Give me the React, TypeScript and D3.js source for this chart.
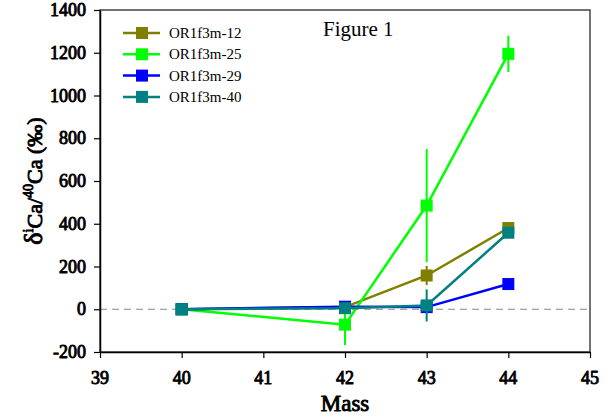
import React, { useRef, useEffect } from 'react';
import * as d3 from 'd3';

const masses = [40, 42, 43, 44];
const seriesNames = ['OR1f3m-12', 'OR1f3m-25', 'OR1f3m-29', 'OR1f3m-40'];
const seriesColors = ['#808000', '#00ff00', '#0000ff', '#008080'];
const values12 = [0, 10, 158, 380];
const values25 = [0, -72, 485, 1195];
const values29 = [0, 12, 10, 118];
const values40 = [0, 5, 18, 358];
const errors12 = [0, 0, 45, 0];
const errors25 = [0, 95, 265, 85];
const errors29 = [0, 0, 0, 0];
const errors40 = [0, 0, 75, 0];
const xTicks = [39, 40, 41, 42, 43, 44, 45];
const yTicks = [-200, 0, 200, 400, 600, 800, 1000, 1200, 1400];

const App = () => {
  const svgRef = useRef(null);

  useEffect(() => {
    const width = 610;
    const height = 417;
    const margin = { top: 10, right: 20, bottom: 65, left: 100 };
    const font = '"Liberation Serif", "Times New Roman", serif';

    const svg = d3.select(svgRef.current)
      .attr('width', width)
      .attr('height', height)
      .style('position', 'absolute')
      .style('left', 0)
      .style('top', 0);
    svg.selectAll('*').remove();

    // fake bold: regular serif with a thin stroke of the same colour
    const bold = sel => sel
      .attr('font-family', font)
      .attr('font-weight', 'normal')
      .attr('fill', '#000')
      .attr('stroke', '#000')
      .attr('stroke-width', 0.9)
      .attr('stroke-linejoin', 'round');

    const x = d3.scaleLinear().domain([39, 45]).range([margin.left, width - margin.right]);
    const y = d3.scaleLinear().domain([-200, 1400]).range([height - margin.bottom, margin.top]);

    // frame
    svg.append('rect')
      .attr('x', x(39)).attr('y', y(1400))
      .attr('width', x(45) - x(39)).attr('height', y(-200) - y(1400))
      .attr('fill', 'white').attr('stroke', '#444').attr('stroke-width', 1.5);

    // zero line
    svg.append('line')
      .attr('x1', x(39)).attr('x2', x(45))
      .attr('y1', y(0)).attr('y2', y(0))
      .attr('stroke', '#888').attr('stroke-width', 1.2)
      .attr('stroke-dasharray', '7,5');

    // axes (lines only, labels drawn below)
    const xAxis = svg.append('g')
      .attr('transform', `translate(0,${y(-200)})`)
      .call(d3.axisBottom(x).tickValues(xTicks).tickSize(6).tickSizeOuter(0).tickFormat(() => ''));
    const yAxis = svg.append('g')
      .attr('transform', `translate(${x(39)},0)`)
      .call(d3.axisLeft(y).tickValues(yTicks).tickSize(6).tickSizeOuter(0).tickFormat(() => ''));

    [xAxis, yAxis].forEach(a => {
      a.select('.domain').attr('stroke', '#000').attr('stroke-width', 1.5);
      a.selectAll('.tick line').attr('stroke', '#000').attr('stroke-width', 1.2);
    });

    svg.append('g')
      .selectAll('text')
      .data(xTicks)
      .enter()
      .append('text')
      .attr('x', d => x(d))
      .attr('y', y(-200) + 32)
      .attr('text-anchor', 'middle')
      .attr('font-size', 18)
      .call(bold)
      .text(d => d);

    svg.append('g')
      .selectAll('text')
      .data(yTicks)
      .enter()
      .append('text')
      .attr('x', x(39) - 14)
      .attr('y', d => y(d) + 6)
      .attr('text-anchor', 'end')
      .attr('font-size', 18)
      .call(bold)
      .text(d => d);

    const allValues = [values12, values25, values29, values40];
    const allErrors = [errors12, errors25, errors29, errors40];

    const line = d3.line<number>()
      .x((d, i) => x(masses[i]))
      .y(d => y(d));

    allValues.forEach((vals, s) => {
      const g = svg.append('g');
      // error bars
      vals.forEach((v, i) => {
        const e = allErrors[s][i];
        if (e > 0) {
          g.append('line')
            .attr('x1', x(masses[i])).attr('x2', x(masses[i]))
            .attr('y1', y(v - e)).attr('y2', y(v + e))
            .attr('stroke', seriesColors[s]).attr('stroke-width', 2);
        }
      });
      g.append('path')
        .datum(vals)
        .attr('d', line)
        .attr('fill', 'none')
        .attr('stroke', seriesColors[s])
        .attr('stroke-width', 2.5);
      g.selectAll('rect')
        .data(vals)
        .enter()
        .append('rect')
        .attr('x', (d, i) => x(masses[i]) - 6)
        .attr('y', d => y(d) - 6)
        .attr('width', 12).attr('height', 12)
        .attr('fill', seriesColors[s]);
    });

    // legend
    const legend = svg.append('g');
    seriesNames.forEach((name, i) => {
      const ly = 33 + i * 21.3;
      legend.append('line')
        .attr('x1', 123).attr('x2', 160)
        .attr('y1', ly).attr('y2', ly)
        .attr('stroke', seriesColors[i]).attr('stroke-width', 2.5);
      legend.append('rect')
        .attr('x', 136).attr('y', ly - 6)
        .attr('width', 12).attr('height', 12)
        .attr('fill', seriesColors[i]);
      legend.append('text')
        .attr('x', 169).attr('y', ly + 5)
        .attr('font-family', font)
        .attr('font-size', 15)
        .text(name);
    });

    svg.append('text')
      .attr('x', 323).attr('y', 36)
      .attr('font-family', font)
      .attr('font-size', 21)
      .text('Figure 1');

    svg.append('text')
      .attr('x', (x(39) + x(45)) / 2).attr('y', 411)
      .attr('text-anchor', 'middle')
      .attr('font-size', 23)
      .call(bold)
      .text('Mass');

    const yl = svg.append('text')
      .attr('transform', `translate(42,${(y(-200) + y(1400)) / 2}) rotate(-90)`)
      .attr('text-anchor', 'middle')
      .attr('font-size', 22)
      .call(bold);
    yl.append('tspan').attr('font-size', 26).text('δ');
    yl.append('tspan').attr('dy', -9).attr('font-size', 14).text('i');
    yl.append('tspan').attr('dy', 9).text('Ca/');
    yl.append('tspan').attr('dy', -9).attr('font-size', 14).text('40');
    yl.append('tspan').attr('dy', 9).text('Ca (‰)');
  }, []);

  return <svg ref={svgRef}></svg>;
};

export default App;
